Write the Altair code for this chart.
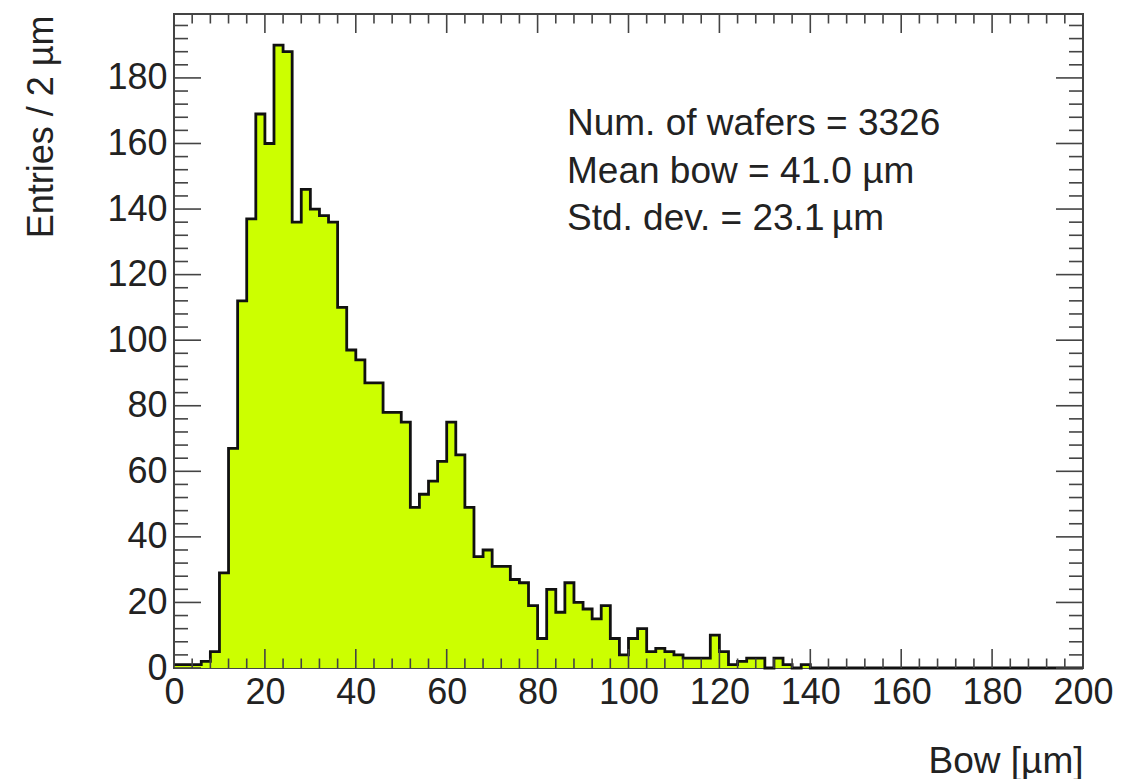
import altair as alt
import pandas as pd

# Histogram of wafer bow, bins of 2 um from 0 to 200
bin_edges = [0, 2, 4, 6, 8, 10, 12, 14, 16, 18, 20, 22, 24, 26, 28, 30, 32, 34, 36, 38,
             40, 42, 44, 46, 48, 50, 52, 54, 56, 58, 60, 62, 64, 66, 68, 70, 72, 74, 76, 78,
             80, 82, 84, 86, 88, 90, 92, 94, 96, 98, 100, 102, 104, 106, 108, 110, 112, 114, 116, 118,
             120, 122, 124, 126, 128, 130, 132, 134, 136, 138, 140, 142, 144, 146, 148, 150, 152, 154, 156, 158,
             160, 162, 164, 166, 168, 170, 172, 174, 176, 178, 180, 182, 184, 186, 188, 190, 192, 194, 196, 198]
counts = [1, 1, 1, 2, 5, 29, 67, 112, 137, 169, 160, 190, 188, 136, 146, 140, 138, 136, 110, 97,
          94, 87, 87, 78, 78, 75, 49, 53, 57, 63, 75, 65, 49, 34, 36, 31, 31, 27, 26, 19,
          9, 24, 17, 26, 20, 18, 15, 19, 9, 4, 9, 12, 5, 6, 5, 4, 3, 3, 3, 10,
          5, 1, 2, 3, 3, 0, 3, 1, 0, 1, 0, 0, 0, 0, 0, 0, 0, 0, 0, 0,
          0, 0, 0, 0, 0, 0, 0, 0, 0, 0, 0, 0, 0, 0, 0, 0, 0, 0, 0, 0]
x_end = 200

x_major = [0, 20, 40, 60, 80, 100, 120, 140, 160, 180, 200]
x_minor = [4, 8, 12, 16, 24, 28, 32, 36, 44, 48, 52, 56, 64, 68, 72, 76, 84, 88, 92, 96,
           104, 108, 112, 116, 124, 128, 132, 136, 144, 148, 152, 156, 164, 168, 172, 176,
           184, 188, 192, 196]
y_major = [0, 20, 40, 60, 80, 100, 120, 140, 160, 180]
y_minor = [4, 8, 12, 16, 24, 28, 32, 36, 44, 48, 52, 56, 64, 68, 72, 76, 84, 88, 92, 96,
           104, 108, 112, 116, 124, 128, 132, 136, 144, 148, 152, 156, 164, 168, 172, 176,
           184, 188, 192, 196]

stats_lines = ["Num. of wafers = 3326", "Mean bow = 41.0 \u00b5m", "Std. dev. = 23.1\u2009\u00b5m"]

W, H = 909, 654
FONT = "Liberation Sans"
TXT = "#222222"
FRAME = "#444444"

xs = alt.Scale(domain=[0, 200], nice=False, zero=False)
ys = alt.Scale(domain=[0, 199.5], nice=False, zero=False)

hist = pd.DataFrame({"bow": bin_edges + [x_end], "n": counts + [counts[-1]]})

x_axis = alt.Axis(values=x_major, ticks=False, tickSize=0, domain=False, grid=False,
                  labelFont=FONT, labelFontSize=36, labelColor=TXT, labelPadding=7,
                  labelFlush=False, labelOverlap=False, labelBaseline="top",
                  title="Bow [\u00b5m]", titleFont=FONT, titleFontSize=37, titleFontWeight="normal",
                  titleColor=TXT, titleX=W, titleY=104, titleAlign="right", titleBaseline="alphabetic")
y_axis = alt.Axis(values=y_major, ticks=False, tickSize=0, domain=False, grid=False,
                  labelFont=FONT, labelFontSize=36, labelColor=TXT, labelPadding=7,
                  labelFlush=False, labelOverlap=False,
                  title="Entries / 2 \u00b5m", titleFont=FONT, titleFontSize=36, titleFontWeight="normal",
                  titleColor=TXT, titleX=-122, titleY=1, titleAlign="right", titleAngle=270,
                  titleBaseline="alphabetic")

area = alt.Chart(hist).mark_area(interpolate="step-after", color="#ccff00").encode(
    x=alt.X("bow:Q", scale=xs, axis=x_axis),
    y=alt.Y("n:Q", scale=ys, axis=y_axis),
)
line = alt.Chart(hist).mark_line(interpolate="step-after", color="#111111", strokeWidth=2.8).encode(
    x=alt.X("bow:Q", scale=xs, axis=x_axis),
    y=alt.Y("n:Q", scale=ys, axis=y_axis),
)

def xticks(vals, length):
    d = pd.DataFrame({"bow": vals})
    bottom = alt.Chart(d).mark_rule(color=FRAME, strokeWidth=1.6).encode(
        x=alt.X("bow:Q", scale=xs, axis=x_axis), y=alt.value(H), y2=alt.value(H - length))
    top = alt.Chart(d).mark_rule(color=FRAME, strokeWidth=1.6).encode(
        x=alt.X("bow:Q", scale=xs, axis=x_axis), y=alt.value(0), y2=alt.value(length))
    return [bottom, top]

def yticks(vals, length):
    d = pd.DataFrame({"n": vals})
    left = alt.Chart(d).mark_rule(color=FRAME, strokeWidth=1.6).encode(
        y=alt.Y("n:Q", scale=ys, axis=y_axis), x=alt.value(0), x2=alt.value(length))
    right = alt.Chart(d).mark_rule(color=FRAME, strokeWidth=1.6).encode(
        y=alt.Y("n:Q", scale=ys, axis=y_axis), x=alt.value(W), x2=alt.value(W - length))
    return [left, right]

ticks = xticks(x_major, 19) + xticks(x_minor, 9.5) + yticks(y_major, 27) + yticks(y_minor, 14)

stat_layers = []
for i, s in enumerate(stats_lines):
    stat_layers.append(
        alt.Chart(pd.DataFrame({"label": [s]})).mark_text(
            align="left", baseline="alphabetic", font=FONT, fontSize=37, color=TXT
        ).encode(text="label:N", x=alt.value(393), y=alt.value(121 + 47.5 * i))
    )

chart = alt.layer(area, line, *ticks, *stat_layers).properties(
    width=W, height=H,
    autosize=alt.AutoSizeParams(type="none"),
    padding={"left": 174, "top": 14, "right": 60, "bottom": 111},
    background="white",
).configure_view(stroke=FRAME, strokeWidth=2)

chart.save("out.html", embed_options={"renderer": "svg", "actions": False})
